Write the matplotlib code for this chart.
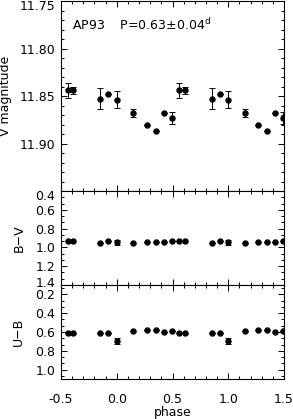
import numpy as np
import matplotlib
matplotlib.use("Agg")
import matplotlib.pyplot as plt
import matplotlib.ticker as ticker
import matplotlib.transforms as mtransforms

plt.rcParams['font.family'] = ['DejaVu Sans']
plt.rcParams['axes.unicode_minus'] = True

# Photometry of AP93 (phases 0..1, folded copies drawn at p-1 and p+1)
phase = np.array([0.000, 0.148, 0.268, 0.348, 0.420, 0.493, 0.562, 0.612, 0.850, 0.925])
v_mag = np.array([11.854, 11.868, 11.881, 11.887, 11.868, 11.873, 11.844, 11.844, 11.853, 11.848])
v_err = np.array([0.009, 0.004, 0.0, 0.0, 0.0, 0.006, 0.008, 0.004, 0.011, 0.0])
b_v = np.array([0.945, 0.950, 0.940, 0.940, 0.940, 0.930, 0.927, 0.929, 0.957, 0.935])
b_v_err = np.array([0.025, 0.0, 0.0, 0.0, 0.0, 0.0, 0.0, 0.0, 0.0, 0.0])
u_b = np.array([0.696, 0.589, 0.578, 0.578, 0.600, 0.589, 0.606, 0.613, 0.606, 0.606])
u_b_err = np.array([0.035, 0.0, 0.0, 0.0, 0.0, 0.0, 0.0, 0.0, 0.0, 0.0])

x_all = np.concatenate([phase - 1, phase, phase + 1])
keep = (x_all >= -0.5) & (x_all <= 1.5)


def fold(a):
    return np.concatenate([a, a, a])[keep]


fig = plt.figure(figsize=(2.93, 4.19), dpi=100)
W = 293.0
H = 419.0
left = 61 / W
width = 223 / W
ax1 = fig.add_axes([left, 1 - 191 / H, width, 190 / H])
ax2 = fig.add_axes([left, 1 - 285 / H, width, 94 / H])
ax3 = fig.add_axes([left, 1 - 379 / H, width, 94 / H])

x = x_all[keep]
panels = [
    (ax1, fold(v_mag), fold(v_err), (11.95, 11.75), 0.05, 5, 'V magnitude', -0.22),
    (ax2, fold(b_v), fold(b_v_err), (1.4, 0.4), 0.2, 3, 'B\u2212V', -0.16),
    (ax3, fold(u_b), fold(u_b_err), (1.1, 0.1), 0.2, 3, 'U\u2212B', -0.16),
]

for ax, y, e, ylim, major, nminor, label, lx in panels:
    ax.errorbar(x, y, yerr=e, fmt='o', color='black', ms=3.6, capsize=2,
                elinewidth=0.7, capthick=0.7)
    ax.set_xlim(-0.5, 1.5)
    ax.set_ylim(*ylim)
    ax.xaxis.set_major_locator(ticker.MultipleLocator(0.5))
    ax.xaxis.set_minor_locator(ticker.MultipleLocator(0.1))
    ax.yaxis.set_major_locator(ticker.MultipleLocator(major))
    ax.yaxis.set_minor_locator(ticker.AutoMinorLocator(nminor))
    ax.tick_params(which='both', direction='in', top=True, right=True,
                   width=0.7, labelsize=9)
    ax.tick_params(which='major', length=4)
    ax.tick_params(which='minor', length=2)
    ax.tick_params(axis='y', pad=4)
    ax.tick_params(axis='x', pad=10)
    for s in ax.spines.values():
        s.set_linewidth(0.8)
    ax.set_ylabel(label, fontsize=9)
    ax.yaxis.set_label_coords(lx, 0.5)

ax1.set_yticks([11.75, 11.80, 11.85, 11.90])
ax1.yaxis.set_major_formatter(ticker.FormatStrFormatter('%.2f'))
ax2.yaxis.set_major_formatter(ticker.FormatStrFormatter('%.1f'))
ax3.set_yticks([0.2, 0.4, 0.6, 0.8, 1.0])
ax3.yaxis.set_major_formatter(ticker.FormatStrFormatter('%.1f'))
ax1.tick_params(axis='x', labelbottom=False)
ax2.tick_params(axis='x', labelbottom=False)
ax3.xaxis.set_major_formatter(ticker.FormatStrFormatter('%.1f'))
ax3.set_xlabel('phase', fontsize=9, labelpad=0)

# nudge end labels inward like the original
fig.canvas.draw()
def nudge(ax, value, dy_px):
    for t in ax.yaxis.get_major_ticks():
        if abs(t.get_loc() - value) < 1e-6:
            lbl = t.label1
            lbl.set_transform(lbl.get_transform() +
                              mtransforms.ScaledTranslation(0, dy_px / 100.0, fig.dpi_scale_trans))

nudge(ax1, 11.75, -4)
nudge(ax2, 0.4, -4)
nudge(ax2, 1.4, 3)

ax1.text(0.049, 0.874, 'AP93    P=0.63\u00b10.04$^{\\rm d}$', transform=ax1.transAxes,
         fontsize=9, va='center', ha='left')

fig.savefig('out.png', dpi=100)
